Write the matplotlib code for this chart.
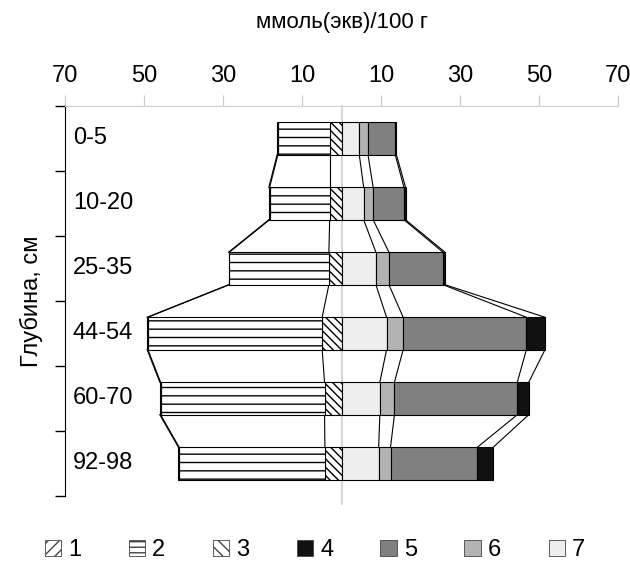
import numpy as np
import matplotlib.pyplot as plt
from matplotlib.patches import Patch

plt.rcParams['font.family'] = ['Liberation Sans', 'DejaVu Sans']
plt.rcParams['hatch.linewidth'] = 1.0

depths = ["0-5", "10-20", "25-35", "44-54", "60-70", "92-98"]

# левая часть (отрицательные значения), от центра наружу: 3, 2, 1
s3 = [3.0, 3.0, 3.2, 4.9, 4.3, 4.2]
s2 = [13.1, 15.2, 25.2, 44.1, 41.5, 36.9]
s1 = [0.2, 0.2, 0.2, 0.2, 0.2, 0.2]
# правая часть, от центра наружу: 7, 6, 5, 4
s7 = [4.5, 5.6, 8.7, 11.4, 9.7, 9.4]
s6 = [2.2, 2.4, 3.3, 4.2, 3.7, 3.0]
s5 = [6.9, 7.8, 13.7, 31.2, 31.1, 22.0]
s4 = [0.3, 0.4, 0.5, 4.7, 2.9, 4.0]

fig = plt.figure(figsize=(6.3, 5.64), dpi=100)
ax = fig.add_axes([0.1032, 0.1206, 0.8778, 0.6915])

y = np.arange(len(depths))
h = 0.5

left_series = [(s3, "white", "\\\\\\\\"), (s2, "white", "--"), (s1, "white", "///")]
right_series = [(s7, "#eeeeee", None), (s6, "#b3b3b3", None), (s5, "#808080", None), (s4, "#111111", None)]

bounds = []
cum = np.zeros(len(depths))
for vals, col, hat in left_series:
    v = np.array(vals)
    ax.barh(y, -v, left=-cum, height=h, color=col, hatch=hat, edgecolor="black", linewidth=0.8, zorder=3)
    cum = cum + v
    bounds.append(-cum.copy())

cum = np.zeros(len(depths))
for vals, col, hat in right_series:
    v = np.array(vals)
    ax.barh(y, v, left=cum, height=h, color=col, edgecolor="black", linewidth=0.8, zorder=3)
    cum = cum + v
    bounds.append(cum.copy())

# линии рядов между столбцами
for b in bounds:
    for i in range(len(depths) - 1):
        ax.plot([b[i], b[i + 1]], [y[i] + h / 2, y[i + 1] - h / 2], color="black", linewidth=0.8, zorder=2)

ax.axvline(0, color="#d0d0d0", linewidth=1.2, zorder=1, ymin=-0.02, clip_on=False)

ax.set_xlim(-70, 70)
ax.set_ylim(len(depths) - 0.5, -0.5)

xt = [-70, -50, -30, -10, 10, 30, 50, 70]
ax.set_xticks(xt)
ax.set_xticklabels([str(abs(t)) for t in xt])
ax.xaxis.tick_top()
ax.xaxis.set_label_position("top")
ax.tick_params(axis="x", direction="out", length=8, color="#c8c8c8", labelsize=17, pad=6)
ax.set_xlabel("ммоль(экв)/100 г", fontsize=16, labelpad=26)

ax.set_yticks(np.arange(len(depths) + 1) - 0.5)
ax.set_yticklabels([])
ax.tick_params(axis="y", direction="out", length=7, color="black", width=1)
for i, d in enumerate(depths):
    ax.text(-68, i, d, ha="left", va="center", fontsize=17)
ax.set_ylabel("Глубина, см", fontsize=17, labelpad=5)

ax.spines["right"].set_visible(False)
ax.spines["bottom"].set_visible(False)
ax.spines["top"].set_color("#d0d0d0")
ax.spines["left"].set_color("black")

handles = [
    Patch(facecolor="white", edgecolor="#444444", hatch="///", linewidth=0.6),
    Patch(facecolor="white", edgecolor="#444444", hatch="---", linewidth=0.6),
    Patch(facecolor="white", edgecolor="#444444", hatch="\\\\\\", linewidth=0.6),
    Patch(facecolor="#111111", edgecolor="#444444", linewidth=0.6),
    Patch(facecolor="#808080", edgecolor="#444444", linewidth=0.6),
    Patch(facecolor="#b3b3b3", edgecolor="#444444", linewidth=0.6),
    Patch(facecolor="#eeeeee", edgecolor="#444444", linewidth=0.6),
]
fig.legend(handles, ["1", "2", "3", "4", "5", "6", "7"], loc="lower center", ncol=7,
           bbox_to_anchor=(0.5, -0.033), frameon=False, fontsize=17,
           handlelength=0.7, handleheight=0.7, handletextpad=0.3, columnspacing=2.0)

fig.savefig("out.png", dpi=100)
